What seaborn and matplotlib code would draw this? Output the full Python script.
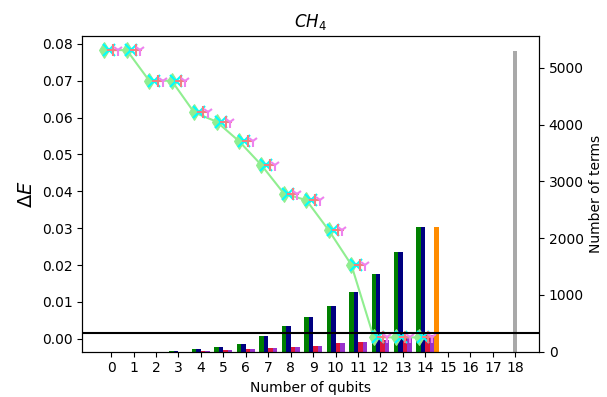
import numpy as np
import pandas as pd
import matplotlib
matplotlib.use("Agg")
import matplotlib.pyplot as plt
import seaborn as sns

# ---- data ----
qubits = list(range(15))
delta_e = [0.0783, 0.0783, 0.0700, 0.0700, 0.0614, 0.0589, 0.0536, 0.0471,
           0.0394, 0.0376, 0.0294, 0.0201, 0.0004, 0.0004, 0.0004]
terms_green = [1, 1, 3, 20, 40, 76, 128, 270, 452, 611, 805, 1051, 1362, 1750, 2200]
terms_navy = [1, 1, 3, 20, 40, 76, 128, 270, 452, 611, 805, 1051, 1362, 1750, 2200]
terms_red = [1, 1, 2, 4, 10, 23, 40, 65, 83, 106, 148, 165, 206, 246, 294]
terms_purple = [1, 1, 2, 4, 10, 23, 40, 65, 83, 106, 148, 165, 206, 246, 294]
orange_x, orange_terms = 14.5, 2200
gray_x, gray_terms = 18, 5300
chem_acc = 0.0016
xtick_labels = [str(i) for i in range(19)]

fig = plt.figure(figsize=(6.07, 3.97), dpi=100)
ax = fig.add_axes([0.1356, 0.114, 0.7524, 0.796])
ax2 = ax.twinx()

# bars on the right axis
bar_df = pd.DataFrame({
    "qubits": qubits * 4,
    "terms": terms_green + terms_navy + terms_red + terms_purple,
    "grp": ["a"] * 15 + ["b"] * 15 + ["c"] * 15 + ["d"] * 15,
})
sns.barplot(data=bar_df, x="qubits", y="terms", hue="grp",
            order=list(range(19)), hue_order=["a", "b", "c", "d"],
            palette=["green", "navy", "crimson", "darkorchid"],
            saturation=1, width=0.8, dodge=True, ax=ax2, legend=False,
            errorbar=None)
ax2.bar([orange_x], [orange_terms], width=0.2, color="darkorange")
ax2.bar([gray_x], [gray_terms], width=0.2, color="darkgray")
ax2.set_ylim(0, 5565)
ax2.set_ylabel("Number of terms")
ax2.set_xlabel("")

# energy errors on the left axis
xs = np.array(qubits, dtype=float)
line_df = pd.DataFrame({"x": xs - 0.3, "y": delta_e})
sns.lineplot(data=line_df, x="x", y="y", color="lightgreen", marker="d",
             markersize=8, markeredgecolor="lightgreen", linewidth=1.5, ax=ax)
for off, mk, col in [(-0.1, "x", "cyan"), (0.1, "+", "lightcoral"), (0.3, "1", "violet")]:
    ax.plot(xs + off, delta_e, linestyle="none", marker=mk, color=col,
            markersize=8, markeredgewidth=1.5)
ax.axhline(chem_acc, color="black", linewidth=1.5)

ax.set_zorder(ax2.get_zorder() + 1)
ax.patch.set_visible(False)

ax.set_ylim(-0.0035, 0.0822)
ax.set_xlim(-1.28, 19.06)
ax.set_xticks(range(19))
ax.set_xticklabels(xtick_labels)
ax.set_yticks([0.0, 0.01, 0.02, 0.03, 0.04, 0.05, 0.06, 0.07, 0.08])
ax.set_yticklabels(["0.00", "0.01", "0.02", "0.03", "0.04", "0.05", "0.06", "0.07", "0.08"])
ax.set_xlabel("Number of qubits")
ax.set_ylabel(r"$\Delta E$", fontsize=14)
ax.set_title(r"$CH_4$")
ax2.set_xlim(-1.28, 19.06)

fig.savefig("out.png", dpi=100)
